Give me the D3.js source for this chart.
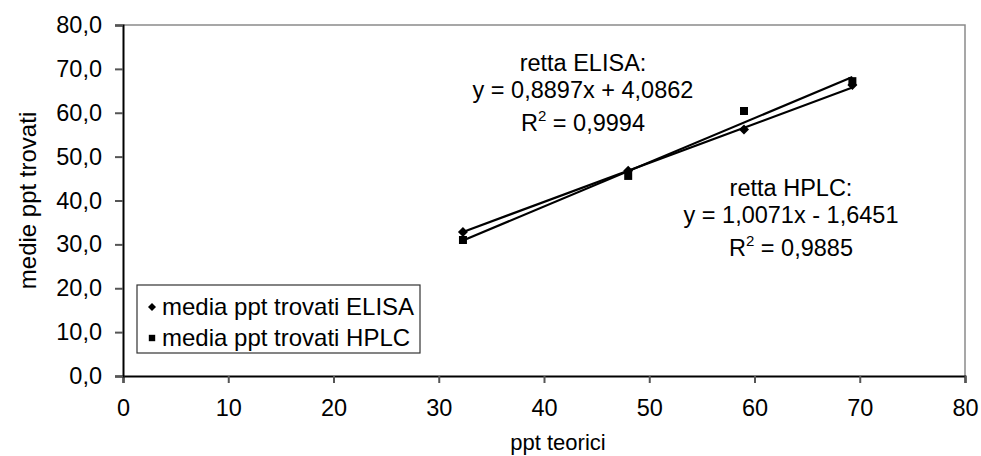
<!DOCTYPE html>
<html>
<head>
<meta charset="utf-8">
<script src="https://cdn.jsdelivr.net/npm/d3@7"></script>
<style>
  body { margin: 0; background: #fff; }
  svg { font-family: "Liberation Sans", Arial, sans-serif; }
</style>
</head>
<body>
<div id="chart"></div>
<script>
var svgWidth = 981;
var svgHeight = 456;

var margin = { top: 25, right: 16, bottom: 80, left: 123 };
var width = 965 - margin.left;
var height = 376 - margin.top;

// data
var xTeorici = [32.3, 48.0, 59.0, 69.3];
var elisa = [32.8, 46.8, 56.2, 66.3];
var hplc = [31.0, 45.6, 60.4, 67.2];
var seriesNames = ["media ppt trovati ELISA", "media ppt trovati HPLC"];
var elisaFit = [0.8897, 4.0862];
var hplcFit = [1.0071, -1.6451];
var xTicks = [0, 10, 20, 30, 40, 50, 60, 70, 80];
var yTicks = [0, 10, 20, 30, 40, 50, 60, 70, 80];

var svg = d3.select("#chart")
  .append("svg")
  .attr("width", svgWidth)
  .attr("height", svgHeight);

var chartGroup = svg.append("g")
  .attr("transform", `translate(${margin.left}, ${margin.top})`);

var x = d3.scaleLinear().domain([0, 80]).range([0, width]);
var y = d3.scaleLinear().domain([0, 80]).range([height, 0]);

// frame top / right
chartGroup.append("path")
  .attr("d", `M0,0H${width}V${height}`)
  .attr("fill", "none")
  .attr("stroke", "#8a8a8a")
  .attr("stroke-width", 1.5);

var fmt = d3.format(".1f");

var xAxis = chartGroup.append("g")
  .attr("transform", `translate(0, ${height})`)
  .call(d3.axisBottom(x).tickValues(xTicks).tickSize(7).tickPadding(16));

var yAxis = chartGroup.append("g")
  .call(d3.axisLeft(y).tickValues(yTicks).tickSize(8).tickPadding(13)
    .tickFormat(d => fmt(d).replace(".", ",")));

[xAxis, yAxis].forEach(function(ax) {
  ax.select(".domain").attr("stroke", "#000").attr("stroke-width", 2);
  ax.selectAll(".tick line").attr("stroke", "#555").attr("stroke-width", 2);
  ax.selectAll("text").attr("font-size", "23.5px").attr("fill", "#000")
    .attr("font-family", "Liberation Sans, Arial, sans-serif");
});

// trend lines
var ext = d3.extent(xTeorici);
[elisaFit, hplcFit].forEach(function(f) {
  chartGroup.append("line")
    .attr("x1", x(ext[0])).attr("y1", y(f[0] * ext[0] + f[1]))
    .attr("x2", x(ext[1])).attr("y2", y(f[0] * ext[1] + f[1]))
    .attr("stroke", "#000").attr("stroke-width", 2.2);
});

var diamond = d3.symbol().type(d3.symbolDiamond2).size(64);
var square = d3.symbol().type(d3.symbolSquare).size(64);

chartGroup.append("g").selectAll("path")
  .data(xTeorici.map((d, i) => [d, hplc[i]]))
  .enter().append("path")
  .attr("d", square)
  .attr("transform", d => `translate(${x(d[0])}, ${y(d[1])})`)
  .attr("fill", "#000");

chartGroup.append("g").selectAll("path")
  .data(xTeorici.map((d, i) => [d, elisa[i]]))
  .enter().append("path")
  .attr("d", diamond)
  .attr("transform", d => `translate(${x(d[0])}, ${y(d[1])})`)
  .attr("fill", "#000");

// annotations
function eqLabel(cx, cy, title, eq, r2) {
  var g = svg.append("g").attr("font-size", "23.5px").attr("fill", "#000").attr("text-anchor", "middle");
  g.append("text").attr("x", cx).attr("y", cy).text(title);
  g.append("text").attr("x", cx).attr("y", cy + 27).text(eq);
  var t = g.append("text").attr("x", cx).attr("y", cy + 60);
  t.append("tspan").text("R");
  t.append("tspan").attr("dy", -10).attr("font-size", "15px").text("2");
  t.append("tspan").attr("dy", 10).text(" = " + r2);
}
eqLabel(583, 71, "retta ELISA:", "y = 0,8897x + 4,0862", "0,9994");
eqLabel(791, 196, "retta HPLC:", "y = 1,0071x - 1,6451", "0,9885");

// legend
var legend = svg.append("g").attr("transform", "translate(137, 285)");
legend.append("rect")
  .attr("width", 283).attr("height", 68)
  .attr("fill", "#fff").attr("stroke", "#333").attr("stroke-width", 1.2);
[diamond, square].forEach(function(sym, i) {
  legend.append("path").attr("d", sym)
    .attr("transform", `translate(15, ${22 + i * 31}) scale(0.8)`)
    .attr("fill", "#000");
  legend.append("text")
    .attr("x", 25).attr("y", 22 + i * 31).attr("dy", "0.35em")
    .attr("font-size", "24px").attr("fill", "#000")
    .text(seriesNames[i]);
});

// axis titles
svg.append("text")
  .attr("x", 558).attr("y", 450)
  .attr("text-anchor", "middle").attr("font-size", "22px")
  .text("ppt teorici");

svg.append("text")
  .attr("transform", `translate(36, ${(25 + 376) / 2}) rotate(-90)`)
  .attr("text-anchor", "middle").attr("font-size", "24px")
  .text("medie ppt trovati");
</script>
</body>
</html>
